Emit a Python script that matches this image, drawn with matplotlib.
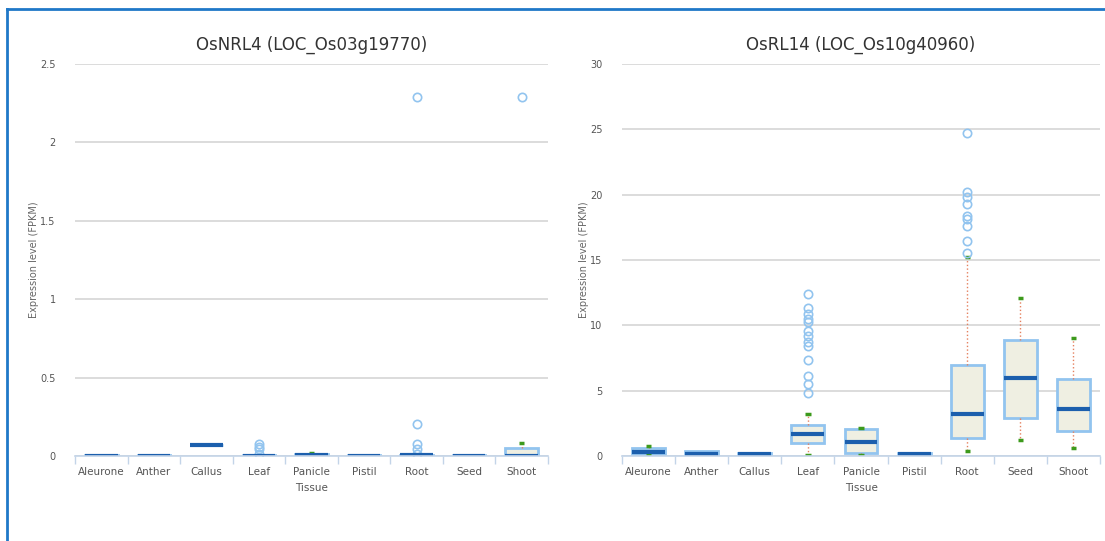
import matplotlib
matplotlib.use("Agg")
import matplotlib.pyplot as plt
from matplotlib.lines import Line2D
import numpy as np

tissues = ["Aleurone", "Anther", "Callus", "Leaf", "Panicle", "Pistil", "Root", "Seed", "Shoot"]

# OsNRL4 (LOC_Os03g19770)
nrl4_lo = [0.0, 0.0, 0.07, 0.0, 0.0, 0.0, 0.0, 0.0, 0.0]
nrl4_q1 = [0.0, 0.0, 0.07, 0.0, 0.0, 0.0, 0.0, 0.0, 0.0]
nrl4_med = [0.002, 0.002, 0.071, 0.002, 0.004, 0.002, 0.004, 0.002, 0.003]
nrl4_q3 = [0.004, 0.004, 0.072, 0.005, 0.012, 0.004, 0.008, 0.004, 0.052]
nrl4_hi = [0.004, 0.004, 0.072, 0.005, 0.021, 0.004, 0.008, 0.004, 0.08]
nrl4_fliers = [[], [], [], [0.078, 0.06, 0.043, 0.011], [], [],
               [2.29, 0.204, 0.078, 0.043, 0.011], [], [2.29]]

# OsRL14 (LOC_Os10g40960)
rl14_lo = [0.08, 0.05, 0.1, 0.05, 0.1, 0.1, 0.39, 1.24, 0.6]
rl14_q1 = [0.18, 0.05, 0.1, 1.0, 0.25, 0.1, 1.37, 2.9, 1.88]
rl14_med = [0.33, 0.15, 0.15, 1.65, 1.08, 0.15, 3.2, 6.0, 3.56]
rl14_q3 = [0.64, 0.4, 0.2, 2.4, 2.06, 0.2, 6.94, 8.87, 5.9]
rl14_hi = [0.77, 0.4, 0.2, 3.2, 2.17, 0.2, 15.2, 12.06, 9.03]
rl14_fliers = [[], [], [],
               [12.4, 11.35, 10.88, 10.52, 10.23, 9.59, 9.15, 8.72, 8.43, 7.32, 6.11, 5.51, 4.8],
               [], [],
               [24.7, 20.2, 19.85, 19.3, 18.35, 18.1, 17.6, 16.45, 15.55],
               [], []]

BOX_EDGE = "#92c4ef"
BOX_FILL = "#efefe2"
MEDIAN = "#1c5fad"
WHISKER = "#e5805e"
CAP = "#3d9a1c"
GRID = "#d6d6d6"
AXIS = "#c3d4e8"
TEXT = "#555555"


def draw_panel(ax, title, lo, q1, med, q3, hi, fliers, ymax, yticks, ylabel_x):
    stats = [
        dict(whislo=lo[i], q1=q1[i], med=med[i], q3=q3[i], whishi=hi[i], fliers=fliers[i])
        for i in range(len(tissues))
    ]
    pos = np.arange(1, len(tissues) + 1)
    parts = ax.bxp(
        stats, positions=pos, widths=0.62, patch_artist=True, capwidths=0.1,
        boxprops=dict(facecolor=BOX_FILL, edgecolor=BOX_EDGE, linewidth=2),
        medianprops=dict(color=MEDIAN, linewidth=3, solid_capstyle="butt"),
        whiskerprops=dict(color=WHISKER, linewidth=1, linestyle=":"),
        capprops=dict(color=CAP, linewidth=2.5, solid_capstyle="butt"),
        flierprops=dict(marker="o", markerfacecolor="none", markeredgecolor=BOX_EDGE,
                        markersize=6, markeredgewidth=1.2, linestyle="none"),
        zorder=3,
    )
    # hide caps of zero-length whiskers
    for i in range(len(tissues)):
        if q1[i] - lo[i] <= 0:
            parts["caps"][2 * i].set_visible(False)
        if hi[i] - q3[i] <= 0:
            parts["caps"][2 * i + 1].set_visible(False)

    ax.set_xlim(0.5, len(tissues) + 0.5)
    ax.set_ylim(0, ymax)
    ax.set_yticks(yticks)
    ax.set_yticklabels(["%g" % t for t in yticks])
    ax.set_xticks(pos)
    ax.set_xticklabels(tissues)
    ax.set_xticks(np.arange(0.5, len(tissues) + 1), minor=True)
    ax.tick_params(axis="x", which="major", length=0, pad=8, labelsize=7.5, labelcolor=TEXT)
    ax.tick_params(axis="x", which="minor", length=6, width=1, color=AXIS, direction="out")
    ax.tick_params(axis="y", length=0, pad=14, labelsize=7, labelcolor=TEXT)
    ax.yaxis.grid(True, color=GRID, linewidth=1.2)
    ax.set_axisbelow(True)
    for s in ["left", "right", "top"]:
        ax.spines[s].set_visible(False)
    ax.spines["bottom"].set_color(AXIS)
    ax.spines["bottom"].set_linewidth(1.2)
    ax.spines["bottom"].set_zorder(4)
    ax.set_title(title, fontsize=12, color="#333333", pad=10)
    ax.set_xlabel("Tissue", fontsize=7.5, color=TEXT, labelpad=4)
    ax.set_ylabel("Expression level (FPKM)", fontsize=7, color="#666666")
    ax.yaxis.set_label_coords(ylabel_x, 0.5)


fig = plt.figure(figsize=(11.05, 5.41), dpi=100)
ax1 = fig.add_axes([0.0679, 0.1571, 0.428, 0.7246])
ax2 = fig.add_axes([0.5629, 0.1571, 0.4326, 0.7246])

draw_panel(ax1, "OsNRL4 (LOC_Os03g19770)", nrl4_lo, nrl4_q1, nrl4_med, nrl4_q3, nrl4_hi,
           nrl4_fliers, 2.5, [0, 0.5, 1, 1.5, 2, 2.5], -0.076)
draw_panel(ax2, "OsRL14 (LOC_Os10g40960)", rl14_lo, rl14_q1, rl14_med, rl14_q3, rl14_hi,
           rl14_fliers, 30, [0, 5, 10, 15, 20, 25, 30], -0.07)

# frame of the original screenshot
fig.add_artist(Line2D([7 / 1105, 1], [1 - 9 / 541] * 2, transform=fig.transFigure,
                      color="#1f78c8", linewidth=2))
fig.add_artist(Line2D([7 / 1105] * 2, [0, 1 - 9 / 541], transform=fig.transFigure,
                      color="#1f78c8", linewidth=2))

fig.savefig("out.png", dpi=100)
